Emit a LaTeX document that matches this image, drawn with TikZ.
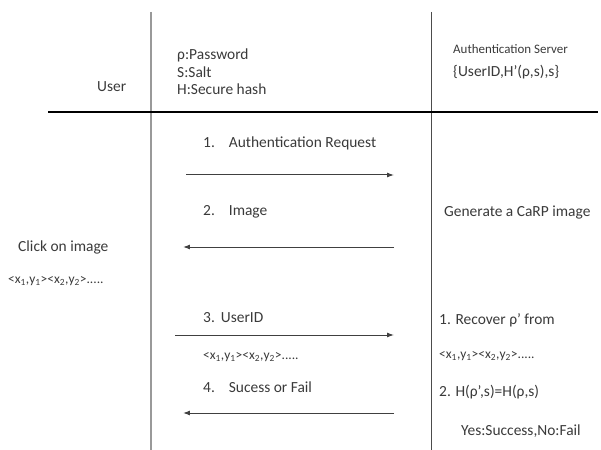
\documentclass[tikz,border=0pt]{standalone}
\usepackage{fontspec}
\setmainfont{Carlito}
\usetikzlibrary{arrows.meta}
\definecolor{txt}{HTML}{3A3A3A}
\tikzset{
  lbl/.style={anchor=west, inner sep=0pt, text=txt, font=\fontsize{15.5}{17}\selectfont},
  small/.style={font=\fontsize{13.5}{15}\selectfont},
  msg/.style={draw=black!75, line width=1pt, -{Latex[length=7pt,width=5pt]}},
}
\begin{document}
\begin{tikzpicture}[x=1bp,y=-1bp]
\useasboundingbox (0,0) rectangle (601,450);
% lifelines
\coordinate (lt) at (151,12); \coordinate (lb) at (151,450);
\coordinate (rt) at (431,12); \coordinate (rb) at (431,450);
\draw[black!40, line width=2pt] (lt) -- (lb);
\draw[black!70, line width=1pt] (rt) -- (rb);
\coordinate (hl) at (48,112); \coordinate (hr) at (598,112);
\draw[black, line width=2.6pt] (hl) -- (hr);
% header
\node[lbl] (user) at (97,87) {User};
\node[lbl] (pw) at (177,55) {ρ:Password};
\node[lbl] (salt) at (177,72) {S:Salt};
\node[lbl] (hash) at (177,89) {H:Secure hash};
\node[lbl, font=\fontsize{13}{15}\selectfont] (srv) at (453,49) {Authentication Server};
\node[lbl] (store) at (453,72) {\{UserID,H'(ρ,s),s\}};
% messages
\node[lbl] (m1) at (203,143) {1.\hspace{14pt}Authentication Request};
\coordinate (a1s) at (186,175); \coordinate (a1e) at (394,175);
\draw[msg] (a1s) -- (a1e);
\node[lbl] (m2) at (203,212) {2.\hspace{14pt}Image};
\coordinate (a2s) at (394,247); \coordinate (a2e) at (183,247);
\draw[msg] (a2s) -- (a2e);
\node[lbl] (gen) at (444,213) {Generate a CaRP image};
\node[lbl] (click) at (18,247) {Click on image};
\node[lbl, small] (pts) at (8,281) {<x\textsubscript{1},y\textsubscript{1}><x\textsubscript{2},y\textsubscript{2}>.....};
\node[lbl] (m3) at (203,318) {3.\hspace{6pt}UserID};
\coordinate (a3s) at (175,335); \coordinate (a3e) at (394,335);
\draw[msg] (a3s) -- (a3e);
\node[lbl, small] (pts2) at (203,357) {<x\textsubscript{1},y\textsubscript{1}><x\textsubscript{2},y\textsubscript{2}>.....};
\node[lbl] (m4) at (203,387) {4.\hspace{14pt}Sucess or Fail};
\coordinate (a4s) at (394,413); \coordinate (a4e) at (183,413);
\draw[msg] (a4s) -- (a4e);
% server side
\node[lbl] (rec) at (439,320) {1. Recover ρ' from};
\node[lbl, small] (pts3) at (439,356) {<x\textsubscript{1},y\textsubscript{1}><x\textsubscript{2},y\textsubscript{2}>.....};
\node[lbl] (cmp) at (439,392) {2. H(ρ',s)=H(ρ,s)};
\node[lbl] (res) at (461,431) {Yes:Success,No:Fail};
\end{tikzpicture}
\end{document}
